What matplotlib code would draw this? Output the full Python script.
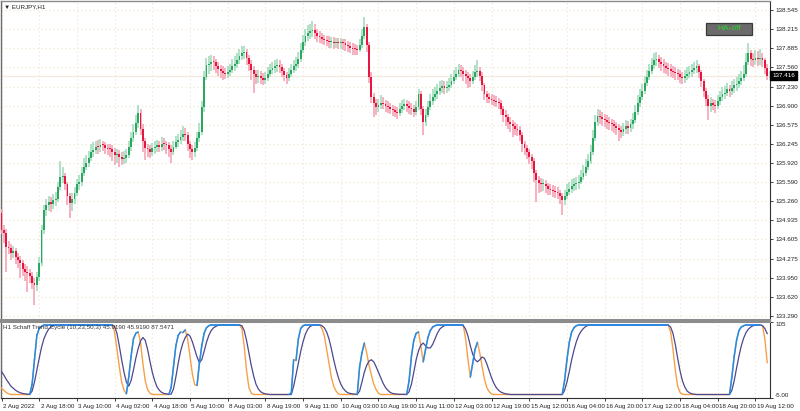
import numpy as np
import matplotlib
matplotlib.use("Agg")
import matplotlib.pyplot as plt
from matplotlib.collections import LineCollection
from matplotlib.patches import Rectangle
import matplotlib.transforms as mtransforms

plt.rcParams['font.family'] = ['Liberation Sans', 'DejaVu Sans']

# ---------------- data ----------------
first_open = 135.06
close = [134.77, 134.72, 134.48, 134.45, 134.38, 134.40, 134.30, 134.25, 134.20, 134.10,
 134.05, 134.03, 133.97, 133.86, 133.82, 133.96, 134.20, 134.77, 135.11, 135.20,
 135.25, 135.22, 135.28, 135.30, 135.50, 135.68, 135.70, 135.55, 135.35, 135.23,
 135.30, 135.40, 135.55, 135.60, 135.75, 135.85, 135.92, 136.00, 136.10, 136.14,
 136.20, 136.19, 136.23, 136.22, 136.18, 136.16, 136.15, 136.10, 136.05, 136.08,
 136.02, 135.98, 136.00, 136.05, 136.20, 136.35, 136.45, 136.60, 136.78, 136.50,
 136.30, 136.18, 136.15, 136.10, 136.17, 136.20, 136.22, 136.20, 136.25, 136.24,
 136.22, 136.15, 136.10, 136.20, 136.28, 136.32, 136.36, 136.42, 136.40, 136.25,
 136.15, 136.10, 136.18, 136.35, 136.45, 136.88, 137.40, 137.60, 137.62, 137.66,
 137.65, 137.58, 137.53, 137.50, 137.46, 137.45, 137.48, 137.52, 137.58, 137.62,
 137.68, 137.75, 137.80, 137.83, 137.72, 137.62, 137.52, 137.45, 137.40, 137.42,
 137.38, 137.35, 137.38, 137.45, 137.52, 137.55, 137.58, 137.60, 137.57, 137.50,
 137.43, 137.38, 137.45, 137.52, 137.58, 137.62, 137.70, 137.85, 138.00, 138.10,
 138.15, 138.18, 138.20, 138.15, 138.10, 138.08, 138.05, 138.03, 138.02, 137.99,
 138.00, 137.98, 137.99, 137.97, 137.98, 137.97, 137.94, 137.92, 137.90, 137.88,
 137.87, 137.86, 137.95, 138.10, 138.25, 137.95, 137.40, 137.05, 136.95, 136.88,
 136.92, 136.95, 136.93, 136.90, 136.88, 136.85, 136.82, 136.80, 136.78, 136.85,
 136.90, 136.93, 136.90, 136.87, 136.85, 136.80, 136.88, 137.10, 136.85, 136.62,
 136.75, 136.88, 136.98, 137.05, 137.10, 137.15, 137.20, 137.24, 137.20, 137.22,
 137.26, 137.32, 137.40, 137.45, 137.52, 137.50, 137.45, 137.42, 137.38, 137.33,
 137.40, 137.48, 137.50, 137.42, 137.25, 137.10, 137.05, 137.02, 137.00, 136.98,
 136.97, 136.95, 136.85, 136.75, 136.70, 136.62, 136.58, 136.55, 136.50, 136.48,
 136.40, 136.25, 136.18, 136.10, 136.02, 135.95, 135.75, 135.62, 135.58, 135.55,
 135.56, 135.52, 135.48, 135.46, 135.44, 135.42, 135.40, 135.35, 135.28, 135.35,
 135.42, 135.48, 135.52, 135.55, 135.57, 135.60, 135.68, 135.75, 135.85, 135.95,
 136.10, 136.35, 136.62, 136.72, 136.70, 136.68, 136.65, 136.62, 136.60, 136.58,
 136.55, 136.52, 136.48, 136.45, 136.50, 136.55, 136.52, 136.58, 136.65, 136.80,
 136.95, 137.05, 137.15, 137.30, 137.40, 137.50, 137.60, 137.68, 137.70, 137.66,
 137.62, 137.58, 137.55, 137.53, 137.50, 137.48, 137.46, 137.44, 137.40, 137.38,
 137.42, 137.45, 137.48, 137.52, 137.55, 137.58, 137.48, 137.32, 137.15, 137.02,
 136.90, 136.95, 136.92, 136.90, 136.98, 137.05, 137.10, 137.12, 137.18, 137.15,
 137.20, 137.25, 137.28, 137.32, 137.38, 137.45, 137.65, 137.80, 137.70, 137.68,
 137.72, 137.70, 137.72, 137.68, 137.55, 137.416]

high = [135.12, 134.85, 134.78, 134.58, 134.52, 134.50, 134.45, 134.38, 134.32, 134.25,
 134.18, 134.15, 134.10, 134.05, 133.95, 134.05, 134.30, 134.85, 135.20, 135.30,
 135.35, 135.33, 135.38, 135.42, 135.60, 135.95, 135.85, 135.75, 135.60, 135.40,
 135.40, 135.50, 135.65, 135.72, 135.85, 136.00, 136.05, 136.12, 136.25, 136.28,
 136.30, 136.32, 136.33, 136.30, 136.28, 136.25, 136.24, 136.22, 136.18, 136.15,
 136.14, 136.10, 136.12, 136.15, 136.30, 136.45, 136.58, 136.75, 136.92, 136.85,
 136.58, 136.35, 136.25, 136.22, 136.26, 136.30, 136.32, 136.30, 136.36, 136.34,
 136.30, 136.28, 136.22, 136.30, 136.38, 136.42, 136.48, 136.55, 136.52, 136.45,
 136.30, 136.22, 136.28, 136.45, 136.60, 136.98, 137.50, 137.72, 137.75, 137.78,
 137.76, 137.70, 137.65, 137.60, 137.58, 137.55, 137.58, 137.62, 137.70, 137.75,
 137.80, 137.88, 137.92, 137.93, 137.88, 137.78, 137.68, 137.58, 137.52, 137.52,
 137.50, 137.46, 137.48, 137.56, 137.62, 137.66, 137.68, 137.70, 137.68, 137.62,
 137.55, 137.48, 137.55, 137.62, 137.68, 137.74, 137.82, 137.98, 138.12, 138.22,
 138.28, 138.30, 138.35, 138.30, 138.22, 138.18, 138.15, 138.12, 138.10, 138.10,
 138.08, 138.08, 138.07, 138.06, 138.06, 138.05, 138.04, 138.02, 138.00, 137.98,
 137.96, 137.95, 138.05, 138.22, 138.42, 138.30, 138.00, 137.48, 137.12, 137.02,
 137.02, 137.08, 137.05, 137.00, 136.98, 136.95, 136.92, 136.90, 136.88, 136.94,
 137.00, 137.02, 137.00, 136.98, 136.95, 136.92, 136.98, 137.18, 137.15, 136.90,
 136.85, 136.98, 137.10, 137.18, 137.22, 137.28, 137.32, 137.35, 137.32, 137.32,
 137.38, 137.44, 137.52, 137.56, 137.62, 137.60, 137.56, 137.52, 137.48, 137.44,
 137.50, 137.60, 137.68, 137.56, 137.48, 137.30, 137.15, 137.12, 137.10, 137.08,
 137.06, 137.04, 137.00, 136.90, 136.82, 136.76, 136.70, 136.66, 136.62, 136.58,
 136.55, 136.45, 136.30, 136.22, 136.15, 136.08, 136.00, 135.80, 135.70, 135.66,
 135.65, 135.62, 135.58, 135.56, 135.54, 135.52, 135.50, 135.46, 135.40, 135.45,
 135.55, 135.60, 135.64, 135.66, 135.68, 135.72, 135.80, 135.88, 135.98, 136.08,
 136.22, 136.48, 136.75, 136.85, 136.82, 136.80, 136.76, 136.74, 136.70, 136.68,
 136.66, 136.62, 136.58, 136.56, 136.60, 136.66, 136.64, 136.68, 136.78, 136.92,
 137.08, 137.18, 137.28, 137.42, 137.52, 137.62, 137.72, 137.80, 137.82, 137.78,
 137.74, 137.70, 137.66, 137.64, 137.62, 137.58, 137.56, 137.54, 137.52, 137.48,
 137.52, 137.56, 137.58, 137.62, 137.66, 137.68, 137.62, 137.52, 137.36, 137.20,
 137.08, 137.05, 137.02, 137.00, 137.08, 137.16, 137.22, 137.24, 137.30, 137.26,
 137.32, 137.36, 137.40, 137.44, 137.50, 137.60, 137.80, 137.98, 137.85, 137.80,
 137.86, 137.84, 137.88, 137.80, 137.72, 137.62]

low = [134.70, 134.55, 134.05, 134.35, 134.25, 134.28, 134.18, 134.12, 133.95, 133.98,
 133.90, 133.70, 133.85, 133.75, 133.48, 133.72, 133.90, 134.15, 134.70, 135.00,
 135.10, 135.08, 135.12, 135.18, 135.25, 135.45, 135.58, 135.45, 135.20, 134.97,
 135.10, 135.22, 135.35, 135.45, 135.52, 135.70, 135.80, 135.85, 135.95, 136.02,
 136.08, 136.08, 136.10, 136.12, 136.08, 136.05, 136.02, 135.95, 135.88, 135.92,
 135.85, 135.88, 135.90, 135.92, 136.00, 136.12, 136.28, 136.40, 136.52, 136.40,
 136.10, 135.97, 136.02, 136.00, 136.04, 136.08, 136.10, 136.10, 136.12, 136.14,
 136.08, 136.02, 135.92, 136.05, 136.15, 136.20, 136.25, 136.30, 136.30, 136.12,
 136.00, 135.97, 136.02, 136.12, 136.28, 136.40, 136.80, 137.35, 137.45, 137.50,
 137.52, 137.46, 137.42, 137.38, 137.35, 137.36, 137.38, 137.42, 137.46, 137.50,
 137.55, 137.62, 137.68, 137.70, 137.60, 137.50, 137.35, 137.12, 137.28, 137.30,
 137.28, 137.25, 137.28, 137.32, 137.40, 137.44, 137.46, 137.48, 137.46, 137.40,
 137.32, 137.28, 137.33, 137.40, 137.46, 137.50, 137.55, 137.65, 137.80, 137.92,
 138.02, 138.05, 138.08, 138.05, 138.00, 137.98, 137.96, 137.94, 137.92, 137.90,
 137.90, 137.88, 137.90, 137.88, 137.88, 137.86, 137.84, 137.82, 137.80, 137.78,
 137.78, 137.78, 137.82, 137.90, 138.05, 137.82, 137.30, 136.95, 136.70, 136.75,
 136.80, 136.84, 136.84, 136.80, 136.78, 136.76, 136.72, 136.70, 136.68, 136.72,
 136.78, 136.82, 136.80, 136.76, 136.74, 136.70, 136.75, 136.82, 136.75, 136.40,
 136.55, 136.70, 136.82, 136.92, 136.98, 137.02, 137.08, 137.12, 137.10, 137.12,
 137.15, 137.20, 137.28, 137.34, 137.40, 137.40, 137.32, 137.28, 137.20, 137.22,
 137.28, 137.35, 137.40, 137.32, 137.15, 137.00, 136.95, 136.94, 136.92, 136.90,
 136.88, 136.85, 136.75, 136.62, 136.55, 136.50, 136.45, 136.36, 136.40, 136.38,
 136.30, 136.10, 136.05, 135.98, 135.90, 135.82, 135.60, 135.25, 135.40, 135.42,
 135.44, 135.40, 135.36, 135.36, 135.34, 135.32, 135.30, 135.22, 135.02, 135.20,
 135.30, 135.36, 135.40, 135.44, 135.46, 135.48, 135.55, 135.62, 135.70, 135.80,
 135.90, 136.05, 136.30, 136.55, 136.58, 136.56, 136.54, 136.50, 136.48, 136.46,
 136.44, 136.40, 136.30, 136.34, 136.38, 136.42, 136.42, 136.45, 136.50, 136.60,
 136.75, 136.88, 137.00, 137.10, 137.24, 137.35, 137.44, 137.54, 137.58, 137.55,
 137.50, 137.46, 137.44, 137.42, 137.40, 137.38, 137.35, 137.34, 137.30, 137.28,
 137.30, 137.34, 137.38, 137.40, 137.44, 137.46, 137.38, 137.22, 137.05, 136.90,
 136.66, 136.80, 136.82, 136.78, 136.84, 136.92, 136.98, 137.02, 137.06, 137.05,
 137.08, 137.12, 137.16, 137.20, 137.26, 137.32, 137.40, 137.60, 137.58, 137.56,
 137.60, 137.58, 137.60, 137.56, 137.45, 137.34]

stc = [9, 6, 3, 1, 0, 0, 0, 0, 0, 0,
 0, 0, 0, 15, 50, 85, 95, 98, 100, 100,
 100, 100, 100, 100, 100, 100, 100, 100, 100, 100,
 100, 100, 100, 100, 100, 100, 100, 100, 100, 100,
 100, 100, 100, 100, 100, 100, 100, 100, 90, 65,
 40, 18, 6, 1, 25, 55, 80, 88, 90, 75,
 45, 20, 7, 2, 0, 0, 0, 0, 0, 0,
 0, 0, 10, 40, 70, 85, 90, 89, 93, 80,
 55, 30, 14, 13, 45, 70, 88, 96, 99, 100,
 100, 100, 100, 100, 100, 100, 100, 100, 100, 100,
 100, 100, 95, 70, 35, 10, 2, 0, 0, 0,
 0, 0, 0, 0, 0, 0, 0, 0, 0, 0,
 0, 0, 0, 2, 50, 49, 80, 95, 99, 100,
 100, 100, 100, 100, 100, 100, 95, 85, 65, 45,
 25, 12, 5, 1, 0, 0, 0, 0, 0, 0,
 0, 0, 40, 60, 74, 60, 42, 28, 15, 7,
 2, 0, 0, 0, 0, 0, 0, 0, 0, 0,
 0, 0, 0, 20, 55, 78, 88, 90, 70, 47,
 65, 82, 92, 97, 99, 100, 100, 100, 100, 100,
 100, 100, 100, 100, 100, 100, 100, 80, 50, 25,
 45, 65, 75, 60, 40, 22, 10, 4, 1, 0,
 0, 0, 0, 0, 0, 0, 0, 0, 0, 0,
 0, 0, 0, 0, 0, 0, 0, 0, 0, 0,
 0, 0, 0, 0, 0, 0, 0, 0, 0, 20,
 50, 75, 90, 96, 99, 100, 100, 100, 100, 100,
 100, 100, 100, 100, 100, 100, 100, 100, 100, 100,
 100, 100, 100, 100, 100, 100, 100, 100, 100, 100,
 100, 100, 100, 100, 100, 100, 100, 100, 100, 100,
 100, 100, 100, 100, 90, 65, 35, 12, 3, 0.5,
 0, 0, 0, 0, 0, 0, 0, 0, 0, 0,
 0, 0, 0, 0, 0, 0, 0, 0, 0, 0,
 25, 55, 78, 92, 97, 99, 100, 100, 100, 100,
 100, 100, 100, 99, 80, 45.919]

signal = [33, 28, 22, 17, 12, 9, 6, 4, 2.5, 1.5,
 1, 0.5, 0.3, 5, 18, 35, 52, 68, 80, 88,
 94, 97, 99, 99.8, 100, 100, 100, 100, 100, 100,
 100, 100, 100, 100, 100, 100, 100, 100, 100, 100,
 100, 100, 100, 100, 100, 100, 100, 100, 98, 88,
 70, 50, 32, 18, 12, 20, 35, 52, 66, 77,
 82, 78, 65, 48, 32, 20, 11, 6, 3, 1.5,
 1, 0.5, 0.5, 8, 25, 45, 62, 74, 82, 87,
 84, 76, 65, 54, 46, 50, 62, 75, 85, 92,
 96, 98, 99.5, 100, 100, 100, 100, 100, 100, 100,
 100, 100, 99, 92, 78, 60, 42, 27, 15, 8,
 4, 2, 1, 0.5, 0, 0, 0, 0, 0, 0,
 0, 0, 0, 0, 12, 28, 45, 62, 76, 87,
 94, 98, 99.5, 100, 100, 100, 99, 96, 90, 80,
 66, 50, 36, 24, 15, 9, 5, 2.5, 1.5, 1,
 0.5, 0.3, 5, 18, 32, 42, 48, 50, 47, 40,
 32, 24, 16, 10, 6, 3, 1.5, 1, 0.5, 0.3,
 0.3, 0.3, 0.3, 4, 15, 32, 50, 63, 71, 74,
 70, 67, 67, 72, 80, 88, 94, 97, 99, 100,
 100, 100, 100, 100, 100, 100, 99, 94, 84, 70,
 58, 50, 47, 50, 54, 52, 44, 34, 24, 16,
 10, 6, 3.5, 2, 1, 0.5, 0, 0, 0, 0,
 0, 0, 0, 0, 0, 0, 0, 0, 0, 0,
 0, 0, 0, 0, 0, 0, 0, 0, 0, 6,
 18, 33, 50, 64, 76, 85, 91, 95, 98, 99.5,
 100, 100, 100, 100, 100, 100, 100, 100, 100, 100,
 100, 100, 100, 100, 100, 100, 100, 100, 100, 100,
 100, 100, 100, 100, 100, 100, 100, 100, 100, 100,
 100, 100, 100, 100, 97, 88, 72, 52, 34, 20,
 11, 5, 2.5, 1, 0.5, 0, 0, 0, 0, 0,
 0, 0, 0, 0, 0, 0, 0, 0, 0, 0,
 6, 20, 38, 55, 70, 81, 89, 94, 97, 99,
 99.5, 100, 100, 99, 95, 87.5471]

time_labels = ['2 Aug 2022', '2 Aug 18:00', '3 Aug 10:00', '4 Aug 02:00', '4 Aug 18:00',
               '5 Aug 10:00', '8 Aug 03:00', '8 Aug 19:00', '9 Aug 11:00', '10 Aug 03:00',
               '10 Aug 19:00', '11 Aug 11:00', '12 Aug 03:00', '12 Aug 19:00', '15 Aug 12:00',
               '16 Aug 04:00', '16 Aug 20:00', '17 Aug 12:00', '18 Aug 04:00', '18 Aug 20:00',
               '19 Aug 12:00']
bars_per_label = 16

price_labels = ['138.545', '138.215', '137.885', '137.560', '137.230', '136.900', '136.575',
                '136.245', '135.920', '135.590', '135.260', '134.935', '134.605', '134.275',
                '133.950', '133.620', '133.290']
last_price = 137.416
symbol_title = '\u25bc EURJPY,H1'
indicator_title = 'H1 Schaff Trend Cycle (10,23,50,3) 45.9190 45.9190 87.5471'
indicator_levels = [105, -5]
indicator_level_labels = ['105', '-5.00']
button_text = 'HA-off'

# ---------------- drawing ----------------
n = min(len(close), len(high), len(low), len(stc), len(signal))
c = np.array(close[:n], float)
h = np.array(high[:n], float)
l = np.array(low[:n], float)
o = np.concatenate([[first_open], c[:-1]])
idx = np.arange(n)
price_ticks = [float(s) for s in price_labels]

W, H = 800, 411
FS = 4.5
fig = plt.figure(figsize=(8, 4.11), dpi=100)
fig.patch.set_facecolor('white')

ax = fig.add_axes([1 / W, 1 - 320 / H, 769 / W, 319 / H])
ax2 = fig.add_axes([1 / W, 1 - 398 / H, 769 / W, 76.5 / H])

xlim = ((1 - 1.5) / 2.356, (770 - 1.5) / 2.356)

grid_col = '#f1e6d3'
grid_ls = (0, (1.2, 2.4))
label_pos = [i * bars_per_label for i in range(len(time_labels))]

# candles
bull_body, bull_wick = '#2aa862', '#a8dec0'
bear_body, bear_wick = '#e6163f', '#f5a9ba'
up = c >= o
for mask, wc, bc in [(up, bull_wick, bull_body), (~up, bear_wick, bear_body)]:
    ax.vlines(idx[mask], l[mask], h[mask], color=wc, lw=1.25, zorder=3)
    bot = np.minimum(o, c)[mask]
    hgt = np.maximum(np.abs(c - o)[mask], 0.018)
    ax.bar(idx[mask], hgt, bottom=bot, width=0.78, color=bc, lw=0, zorder=4)

ax.axhline(last_price, color='#f4eadb', lw=0.9, zorder=2)
ax.set_xlim(*xlim)
ax.set_ylim(138.545 - 310 / 58.24, 138.545 + 9 / 58.24)
ax.set_xticks(label_pos)
ax.set_yticks(price_ticks)
ax.set_yticklabels(price_labels)
ax.yaxis.tick_right()
ax.tick_params(axis='x', length=0, labelbottom=False)
ax.tick_params(axis='y', direction='out', length=2.2, width=0.6, pad=1.5,
               labelsize=FS, colors='#222222')
ax.grid(True, color=grid_col, ls=grid_ls, lw=0.8, zorder=0)
for side, col, lw in [('left', '#6a6a6a', 1.0), ('top', '#8a8a8a', 1.0),
                      ('right', '#303030', 0.8), ('bottom', '#8c8c8c', 1.5)]:
    ax.spines[side].set_color(col)
    ax.spines[side].set_linewidth(lw)

# current price box
tr = mtransforms.blended_transform_factory(ax.transAxes, ax.transData)
ax.text(1.003, last_price, f'{last_price:.3f}', transform=tr, ha='left', va='center',
        fontsize=FS, color='white', zorder=10, clip_on=False,
        bbox=dict(facecolor='black', edgecolor='black', pad=1.3))

# indicator
st = np.array(stc[:n], float)
sg = np.array(signal[:n], float)
state = np.zeros(n, bool)
cur = False
for i in range(1, n):
    if st[i] > st[i - 1]:
        cur = True
    elif st[i] < st[i - 1]:
        cur = False
    state[i] = cur

ax2.plot(idx, st, color='#f7a048', lw=1.0, zorder=3)
ax2.plot(idx, sg, color='#4a4890', lw=0.9, zorder=4)
segs = [[(i - 1, st[i - 1]), (i, st[i])] for i in range(1, n) if state[i]]
ax2.add_collection(LineCollection(segs, colors='#1f8cf0', linewidths=1.1, zorder=5,
                                  capstyle='round'))
ax2.set_xlim(*xlim)
ax2.set_ylim(-5, 105)
ax2.set_xticks(label_pos)
ax2.set_xticklabels(time_labels)
ax2.tick_params(axis='x', direction='out', length=2.2, width=0.6, pad=1.8,
                labelsize=FS, colors='#222222')
offset = mtransforms.ScaledTranslation(1.5 / 100, 0, fig.dpi_scale_trans)
for lbl in ax2.get_xticklabels():
    lbl.set_ha('left')
    lbl.set_transform(lbl.get_transform() + offset)
ax2.yaxis.tick_right()
ax2.set_yticks(indicator_levels)
ax2.set_yticklabels(indicator_level_labels)
ax2.tick_params(axis='y', direction='out', length=2.2, width=0.6, pad=1.5,
                labelsize=FS, colors='#222222')
yl = ax2.get_yticklabels()
yl[0].set_va('top')
yl[1].set_va('bottom')
ax2.grid(True, axis='x', color=grid_col, ls=grid_ls, lw=0.8, zorder=0)
for side, col, lw in [('left', '#6a6a6a', 1.0), ('top', '#8c8c8c', 1.5),
                      ('right', '#303030', 0.8), ('bottom', '#303030', 0.8)]:
    ax2.spines[side].set_color(col)
    ax2.spines[side].set_linewidth(lw)

# texts
fig.text(4 / W, 1 - 6.5 / H, symbol_title, fontsize=FS, va='center', ha='left',
         color='#222222')
fig.text(3 / W, 1 - 327.5 / H, indicator_title, fontsize=FS, va='center', ha='left',
         color='#333333')

# HA-off button
btn = Rectangle((706 / W, 1 - 34.7 / H), 46 / W, 12 / H, transform=fig.transFigure,
                facecolor='#6b6b6b', edgecolor='#3a3a3a', lw=0.9, zorder=20)
fig.patches.append(btn)
fig.text(729 / W, 1 - 28.7 / H, button_text, fontsize=6, ha='center', va='center',
         color='#2ad42a', zorder=21)

fig.savefig('out.png', dpi=100)
